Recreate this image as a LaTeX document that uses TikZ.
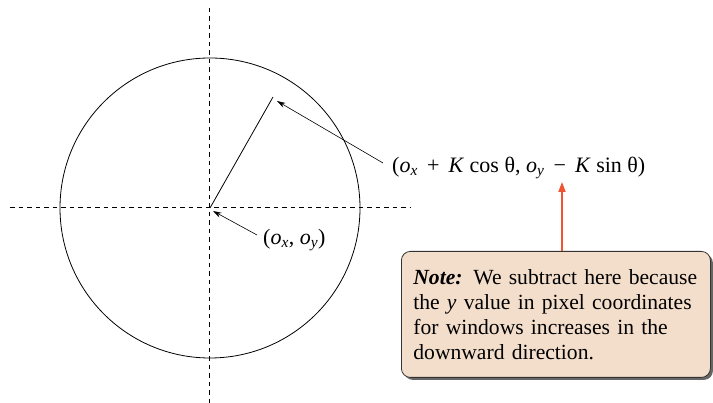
\documentclass[tikz,border=0pt]{standalone}
\usepackage{fontspec}
\setmainfont{Liberation Serif}
\usetikzlibrary{arrows.meta,positioning,shadows}
\definecolor{notepeach}{RGB}{243,222,204}
\definecolor{calloutred}{RGB}{238,86,50}
\tikzset{
  wire/.style={black,line width=0.8pt},
  omitted/.style={black,line width=1pt,dash pattern=on 4.5pt off 4pt},
  flow/.style={-{Stealth[length=3mm,width=1.8mm]},line width=0.6pt},
  callout/.style={-{Triangle[length=3.5mm,width=2.5mm]},calloutred,line width=1.4pt},
  notebox/.style={draw=black!80,line width=0.8pt,fill=notepeach,rounded corners=9pt,
               drop shadow={shadow xshift=2.5pt,shadow yshift=-2.5pt,fill=black!60,opacity=1},
               inner xsep=12pt,inner ysep=8pt,text width=285pt,minimum height=126pt,align=left,
               font=\fontsize{21.6}{25}\selectfont},
  lab/.style={font=\fontsize{22}{24}\selectfont,inner sep=0pt},
}
\newcommand{\sub}[1]{\textsubscript{\textit{#1}}}
\begin{document}
\begin{tikzpicture}[x=1pt,y=1pt]
  \path[use as bounding box] (0,0) rectangle (713,403);
  \coordinate (origin) at (210,195);
  \coordinate (tip) at (273,306);

  \draw[omitted] (209,395) -- (209,0);
  \draw[omitted] (10,195) -- (410,195);
  \draw[wire] (origin) circle (150);
  \draw[wire] (origin) -- (tip);

  \node[lab,anchor=west] (polar) at (392,235)
    {(\textit{o}\sub{x} \,+\, \textit{K} cos θ, \textit{o}\sub{y} \,−\, \textit{K} sin θ)};
  \node[lab,anchor=west] (centre) at (263,163)
    {(\textit{o}\sub{x}, \textit{o}\sub{y})};

  \draw[flow] (polar.west) ++(-9pt,5pt) -- ([xshift=4pt,yshift=-4pt]tip);
  \draw[flow] (centre.west) ++(-6pt,5pt) -- ([xshift=3pt,yshift=-3pt]origin);

  \node[notebox,anchor=north west] (note) at (401,152)
    {\textbf{\textit{Note:}} We subtract here because\\
     the \textit{y} value in pixel coordinates\\
     for windows increases in the\\
     downward direction.};
  \draw[callout] (note.north -| 562,0) -- (562,221);
\end{tikzpicture}
\end{document}
